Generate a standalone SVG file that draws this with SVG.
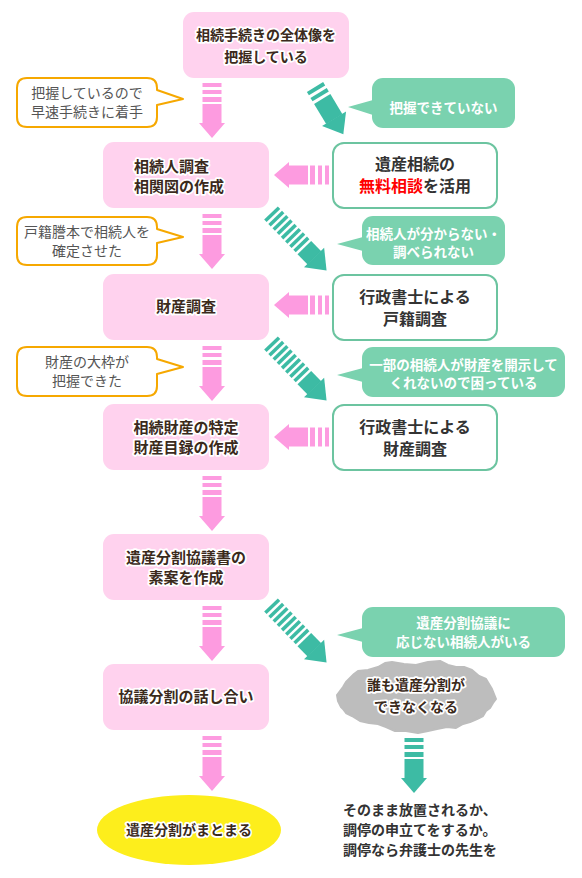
<svg xmlns="http://www.w3.org/2000/svg" xmlns:xlink="http://www.w3.org/1999/xlink" width="582" height="878" viewBox="0 0 582 878">
<style>
text{font-family:"Noto Sans CJK JP","Noto Sans",sans-serif;}
.pbox{fill:#ffd2ee;}
.gbox{fill:#fff;stroke:#6cc4a0;stroke-width:2;}
.gbub{fill:#7ad2af;}
.obub{fill:#fff;stroke:#f6a800;stroke-width:2;stroke-linejoin:round;}
.pt{font-size:15px;font-weight:700;fill:#3b2a1c;stroke:#fff;stroke-width:3.5px;paint-order:stroke;stroke-linejoin:round;text-anchor:middle;}
.gt{font-size:16px;font-weight:700;fill:#333;text-anchor:middle;}
.wt{font-size:13.5px;font-weight:700;fill:#fff;text-anchor:middle;}
.ot{font-size:14px;font-weight:400;fill:#555;text-anchor:middle;}
.bt{font-size:14px;font-weight:700;fill:#333;}
.pink{fill:#fd9be0;}
.teal{fill:#3dbba4;}
</style>
<defs>
<g id="arrowS">
<rect x="0" y="-9.5" width="4" height="19"/>
<rect x="7" y="-9.5" width="4" height="19"/>
<rect x="14" y="-9.5" width="5" height="19"/>
<rect x="21" y="-9.5" width="19.5" height="19"/>
<polygon points="40,-13 55,0 40,13"/>
</g>
<g id="arrowD">
<rect x="0" y="-9.5" width="3.5" height="19"/>
<rect x="6" y="-9.5" width="3.5" height="19"/>
<rect x="12" y="-9.5" width="3.5" height="19"/>
<rect x="18" y="-9.5" width="3.5" height="19"/>
<rect x="24" y="-9.5" width="3.5" height="19"/>
<rect x="30" y="-9.5" width="3.5" height="19"/>
<rect x="36" y="-9.5" width="3.5" height="19"/>
<rect x="42" y="-9.5" width="3.5" height="19"/>
<rect x="48" y="-9.5" width="14.5" height="19"/>
<polygon points="62,-14 80,0 62,14"/>
</g>
<g id="arrowD2">
<rect x="0" y="-9.5" width="4" height="19"/>
<rect x="7" y="-9.5" width="4" height="19"/>
<rect x="14" y="-9.5" width="23.5" height="19"/>
<polygon points="37,-14 55,0 37,14"/>
</g>
</defs>

<g id="connectors">
<use xlink:href="#arrowS" class="pink" transform="translate(212,83) rotate(90)"/>
<use xlink:href="#arrowS" class="pink" transform="translate(212,214) rotate(90)"/>
<use xlink:href="#arrowS" class="pink" transform="translate(212,346) rotate(90)"/>
<use xlink:href="#arrowS" class="pink" transform="translate(212,476) rotate(90)"/>
<use xlink:href="#arrowS" class="pink" transform="translate(212,606) rotate(90)"/>
<use xlink:href="#arrowS" class="pink" transform="translate(212,736) rotate(90)"/>
<use xlink:href="#arrowS" class="pink" transform="translate(329,175) rotate(180)"/>
<use xlink:href="#arrowS" class="pink" transform="translate(329,305) rotate(180)"/>
<use xlink:href="#arrowS" class="pink" transform="translate(329,437) rotate(180)"/>
<use xlink:href="#arrowD2" class="teal" transform="translate(315,87) rotate(59)"/>
<use xlink:href="#arrowD" class="teal" transform="translate(271,213) rotate(46)"/>
<use xlink:href="#arrowD" class="teal" transform="translate(271,343) rotate(46)"/>
<use xlink:href="#arrowD" class="teal" transform="translate(271,605) rotate(46)"/>
<use xlink:href="#arrowS" class="teal" transform="translate(414,738) rotate(90)"/>
</g>

<g id="step1">
<rect class="pbox" x="183" y="12" width="166" height="66" rx="11"/>
<text class="pt" style="font-size:14px" x="266" y="40">相続手続きの全体像を</text>
<text class="pt" style="font-size:14px" x="266" y="62">把握している</text>
</g>
<g id="step2">
<rect class="pbox" x="103" y="142" width="166" height="66" rx="11"/>
<text class="pt" style="text-anchor:start" x="134" y="172">相続人調査</text>
<text class="pt" style="text-anchor:start" x="134" y="192">相関図の作成</text>
</g>
<g id="step3">
<rect class="pbox" x="103" y="274" width="166" height="66" rx="11"/>
<text class="pt" x="186" y="312">財産調査</text>
</g>
<g id="step4">
<rect class="pbox" x="103" y="404" width="166" height="66" rx="11"/>
<text class="pt" x="186" y="433">相続財産の特定</text>
<text class="pt" x="186" y="453">財産目録の作成</text>
</g>
<g id="step5">
<rect class="pbox" x="103" y="534" width="166" height="66" rx="11"/>
<text class="pt" x="186" y="563">遺産分割協議書の</text>
<text class="pt" x="186" y="583">素案を作成</text>
</g>
<g id="step6">
<rect class="pbox" x="103" y="664" width="166" height="66" rx="11"/>
<text class="pt" x="186" y="702">協議分割の話し合い</text>
</g>
<g id="result">
<ellipse cx="189" cy="830" rx="92" ry="35" fill="#fdee1c"/>
<text class="pt" style="font-size:14px" x="189" y="835">遺産分割がまとまる</text>
</g>

<g id="help1">
<rect class="gbox" x="333" y="143" width="164" height="65" rx="11"/>
<text class="gt" x="415" y="170">遺産相続の</text>
<text class="gt" x="415" y="192"><tspan fill="#ff0000">無料相談</tspan>を活用</text>
</g>
<g id="help2">
<rect class="gbox" x="333" y="275" width="164" height="65" rx="11"/>
<text class="gt" x="415" y="303">行政書士による</text>
<text class="gt" x="415" y="325">戸籍調査</text>
</g>
<g id="help3">
<rect class="gbox" x="333" y="405" width="164" height="65" rx="11"/>
<text class="gt" x="415" y="433">行政書士による</text>
<text class="gt" x="415" y="455">財産調査</text>
</g>

<g id="issue1">
<rect class="gbub" x="372" y="78" width="143" height="50" rx="11"/>
<polygon class="gbub" points="373,100 348,107 373,115"/>
<text class="wt" x="443.5" y="113">把握できていない</text>
</g>
<g id="issue2">
<rect class="gbub" x="362" y="216" width="143" height="49" rx="11"/>
<polygon class="gbub" points="363,237 337,244 363,251"/>
<text class="wt" x="433.5" y="238.5">相続人が分からない・</text>
<text class="wt" x="433.5" y="257">調べられない</text>
</g>
<g id="issue3">
<rect class="gbub" x="362" y="347" width="203" height="50" rx="11"/>
<polygon class="gbub" points="363,368 337,375 363,382"/>
<text class="wt" x="463.5" y="369.5">一部の相続人が財産を開示して</text>
<text class="wt" x="463.5" y="388">くれないので困っている</text>
</g>
<g id="issue4">
<rect class="gbub" x="362" y="607" width="203" height="50" rx="11"/>
<polygon class="gbub" points="363,628 337,635 363,642"/>
<text class="wt" x="463.5" y="628">遺産分割協議に</text>
<text class="wt" x="463.5" y="647">応じない相続人がいる</text>
</g>

<g id="note1">
<path class="obub" d="M27,78 H147 Q157,78 157,88 V90 L183,99 L157,105 V117 Q157,127 147,127 H27 Q17,127 17,117 V88 Q17,78 27,78 Z"/>
<text class="ot" x="87" y="98">把握しているので</text>
<text class="ot" x="87" y="117">早速手続きに着手</text>
</g>
<g id="note2">
<path class="obub" d="M27,217 H147 Q157,217 157,227 V229 L183,237 L157,243 V255 Q157,265 147,265 H27 Q17,265 17,255 V227 Q17,217 27,217 Z"/>
<text class="ot" x="87" y="237">戸籍謄本で相続人を</text>
<text class="ot" x="87" y="256">確定させた</text>
</g>
<g id="note3">
<path class="obub" d="M27,347 H147 Q157,347 157,357 V359 L183,367 L157,374 V386 Q157,396 147,396 H27 Q17,396 17,386 V357 Q17,347 27,347 Z"/>
<text class="ot" x="87" y="367">財産の大枠が</text>
<text class="ot" x="87" y="386">把握できた</text>
</g>

<g id="deadlock">
<path fill="#bdbdbd" stroke="#bdbdbd" stroke-width="2" stroke-linejoin="round" d="M496,699 L493,703 L490,708 L486,711 L483,716 L477,719 L470,722 L463,724 L456,728 L447,727 L437,729 L428,731 L418,733 L406,731 L395,731 L386,727 L378,724 L369,723 L360,721 L352,716 L346,713 L343,709 L341,707 L338,701 L337,695 L340,691 L343,687 L346,682 L350,678 L354,674 L358,671 L368,670 L378,667 L385,663 L392,662 L404,664 L416,665 L428,662 L440,661 L448,665 L456,667 L464,667 L472,670 L479,676 L486,679 L489,684 L492,689 L494,694 Z"/>
<text class="pt" style="font-size:14px" x="416" y="690">誰も遺産分割が</text>
<text class="pt" style="font-size:14px" x="416" y="712">できなくなる</text>
</g>
<g id="outcome">
<text class="bt" x="343" y="815">そのまま放置されるか、</text>
<text class="bt" x="343" y="835">調停の申立てをするか。</text>
<text class="bt" x="343" y="855">調停なら弁護士の先生を</text>
</g>
</svg>
